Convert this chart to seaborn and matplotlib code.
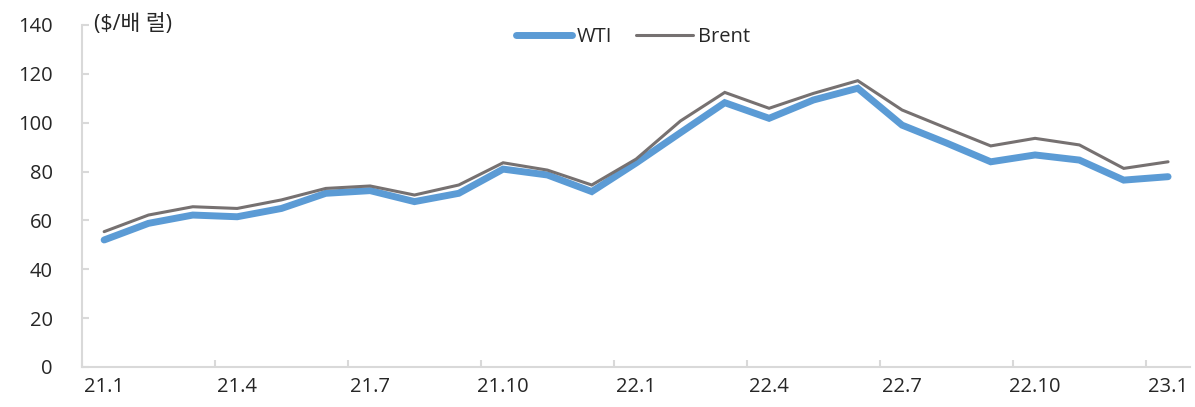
import pandas as pd
import numpy as np
import matplotlib
matplotlib.use("Agg")
import matplotlib.pyplot as plt
import seaborn as sns
from matplotlib.lines import Line2D

sns.set_style("white")
plt.rcParams['font.family'] = ['Open Sans', 'Noto Sans CJK KR', 'DejaVu Sans']

# 월별 유가
months = ["21.1", "21.2", "21.3", "21.4", "21.5", "21.6", "21.7", "21.8", "21.9",
          "21.10", "21.11", "21.12", "22.1", "22.2", "22.3", "22.4", "22.5", "22.6",
          "22.7", "22.8", "22.9", "22.10", "22.11", "22.12", "23.1"]
wti = [52.0, 58.8, 62.2, 61.5, 64.9, 71.1, 72.2, 67.7, 71.1, 81.0, 78.6, 71.8,
       83.5, 95.9, 108.2, 101.8, 109.3, 114.1, 99.0, 91.7, 84.0, 86.8, 84.7, 76.5, 77.9]
brent = [55.4, 62.2, 65.6, 64.9, 68.4, 73.1, 74.1, 70.4, 74.5, 83.6, 80.6, 74.5,
         85.1, 100.7, 112.4, 105.9, 112.0, 117.2, 105.2, 97.8, 90.5, 93.6, 90.9, 81.3, 84.0]
yticks = [0, 20, 40, 60, 80, 100, 120, 140]

df = pd.DataFrame({"idx": np.arange(len(months)), "WTI": wti, "Brent": brent})
long_df = df.melt(id_vars="idx", var_name="series", value_name="price")

fig = plt.figure(figsize=(11.95, 4.07), dpi=100)
ax = fig.add_axes([0.0686, 0.0983, 0.9274, 0.8403])

sns.lineplot(data=long_df, x="idx", y="price", hue="series", size="series",
             palette={"WTI": "#5B9BD5", "Brent": "#767171"},
             sizes={"WTI": 5.0, "Brent": 2.2}, ax=ax, legend=False)
for line in ax.lines:
    line.set_solid_capstyle("round")
    line.set_solid_joinstyle("miter")

ax.set_xlim(-0.5, len(months) - 0.5)
ax.set_ylim(0, 140)
ax.set_yticks(yticks)
ax.set_yticklabels([str(v) for v in yticks])
ax.set_xticks(np.arange(0, len(months), 3))
ax.set_xticklabels(months[::3])
ax.set_xticks(np.arange(-0.5, len(months) - 1, 3), minor=True)
ax.set_xlabel("")
ax.set_ylabel("")

for s in ["top", "right"]:
    ax.spines[s].set_visible(False)
for s in ["left", "bottom"]:
    ax.spines[s].set_color("#d9d9d9")
    ax.spines[s].set_linewidth(1.5)

ax.tick_params(axis="y", direction="in", length=5, width=1.5, color="#d9d9d9",
               labelsize=14.5, pad=21, left=True)
ax.tick_params(axis="x", which="major", length=0, labelsize=14.5, pad=7)
ax.tick_params(axis="x", which="minor", direction="in", length=5, width=1.5,
               color="#d9d9d9", bottom=True)

ax.text(0.011, 1.0, "($/배 럴)", transform=ax.transAxes, fontsize=15.5,
        ha="left", va="center")

handles = [Line2D([], [], color="#5B9BD5", lw=5, solid_capstyle="round"),
           Line2D([], [], color="#767171", lw=2.2)]
ax.legend(handles, ["WTI", "Brent"], loc="center", bbox_to_anchor=(0.497, 0.965),
          ncol=2, frameon=False, fontsize=14.5, handlelength=2.8, handletextpad=0.25,
          columnspacing=1.2)

fig.savefig("out.png", dpi=100)
